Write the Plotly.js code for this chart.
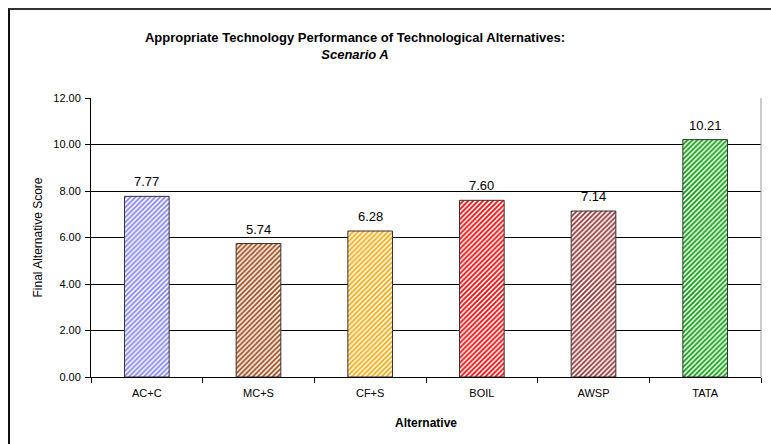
<!DOCTYPE html>
<html><head><meta charset="utf-8">
<script src="https://cdn.plot.ly/plotly-3.0.1.min.js"></script>
<style>
html,body{margin:0;padding:0;background:#fff;}
#wrap{position:relative;width:771px;height:444px;}
#chart{width:771px;height:444px;}
#frame{position:absolute;left:8px;top:8px;width:800px;height:500px;border-top:2px solid #333;border-left:2px solid #111;pointer-events:none;}
</style></head>
<body>
<div id="wrap"><div id="chart"></div><div id="frame"></div></div>
<script>
const categories = ["AC+C","MC+S","CF+S","BOIL","AWSP","TATA"];
const scores = [7.77, 5.74, 6.28, 7.60, 7.14, 10.21];
const scoreLabels = ["7.77","5.74","6.28","7.60","7.14","10.21"];
const barColors = ["#8080FF","#A0400A","#FFA500","#FF0000","#993333","#00A000"];
const yTicks = [0,2,4,6,8,10,12];

const trace = {
  type: "bar",
  x: categories,
  y: scores,
  marker: {
    color: "#fff",
    line: {color: "#333", width: 1},
    pattern: {shape: "/", fgcolor: barColors, bgcolor: "#fff", size: 3.5, solidity: 0.5}
  },
  hoverinfo: "none"
};

const labelAnnotations = categories.map((c, i) => ({
  x: c, y: scores[i], xref: "x", yref: "y",
  text: scoreLabels[i], showarrow: false,
  yanchor: "bottom", yshift: 5,
  font: {family: "Arial, Liberation Sans, sans-serif", size: 13, color: "#000"}
}));

const layout = {
  width: 771, height: 444,
  margin: {l: 91, r: 10, t: 98, b: 67},
  paper_bgcolor: "#fff", plot_bgcolor: "#fff",
  bargap: 0.6,
  showlegend: false,
  font: {family: "Arial, Liberation Sans, sans-serif", color: "#000"},
  title: {
    text: "<b>Appropriate Technology Performance of Technological Alternatives:</b><br><b><i>Scenario A</i></b>",
    font: {size: 13, color: "#000"},
    x: 355/771, xref: "container", xanchor: "center",
    y: 1 - 42/444, yref: "container", yanchor: "top"
  },
  xaxis: {
    title: {text: "<b>Alternative</b>", font: {size: 12}, standoff: 20},
    tickfont: {size: 11},
    ticklabelstandoff: 6,
    showline: true, linecolor: "#000", linewidth: 1,
    ticks: "outside", ticklen: 5, tickcolor: "#000", tickson: "boundaries",
    mirror: false, showgrid: false
  },
  yaxis: {
    title: {text: "Final Alternative Score", font: {size: 12}, standoff: 8},
    range: [0, 12],
    tickvals: yTicks, tickformat: ".2f",
    tickfont: {size: 11},
    ticklabelstandoff: 2,
    showline: true, linecolor: "#000", linewidth: 1,
    ticks: "outside", ticklen: 5, tickcolor: "#000",
    showgrid: true, gridcolor: "#000", gridwidth: 1,
    zeroline: false
  },
  annotations: labelAnnotations,
  shapes: [
    {type: "line", xref: "paper", yref: "paper", x0: 1, x1: 1, y0: 0, y1: 1, line: {color: "#999", width: 1}}
  ]
};

Plotly.newPlot("chart", [trace], layout, {displayModeBar: false, staticPlot: true});
</script>
</body></html>
